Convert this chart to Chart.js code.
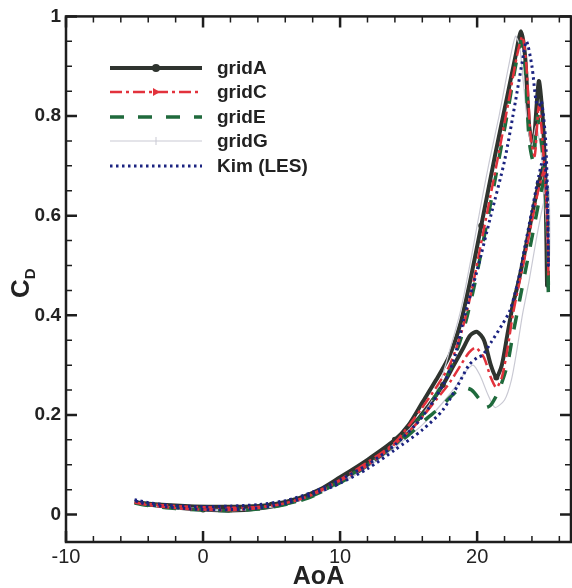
<!DOCTYPE html>
<html>
<head>
<meta charset="utf-8">
<script src="https://cdn.jsdelivr.net/npm/chart.js@4.4.0/dist/chart.umd.min.js"></script>
<style>
  html, body { margin: 0; padding: 0; background: #fff; }
  #wrap { position: relative; width: 572px; height: 588px; }
</style>
</head>
<body>
<div id="wrap"><canvas id="cd" width="572" height="588"></canvas></div>
<script>
// values: angle of attack (deg) and drag coefficient, one loop per series
const gridA_aoa = [-5, -4, -2, 0, 2, 4, 6, 8, 10, 12, 14, 15, 16, 17, 18, 18.8, 19.5, 20.3, 21.3, 22.2, 22.8, 23.2, 23.5, 23.8, 24.1, 24.5, 24.8, 25.0, 25.1, 25.05, 24.9, 24.5, 24.0, 23.5, 23.0, 22.6, 22.2, 21.8, 21.4, 21.0, 20.5, 20.0, 19.5, 19.0, 18.3, 17.5, 16.5, 15, 13, 11, 9, 7, 5, 3, 1, -1, -3, -5];
const gridA_cd = [0.025, 0.02, 0.014, 0.01, 0.008, 0.012, 0.022, 0.042, 0.075, 0.11, 0.15, 0.18, 0.225, 0.27, 0.32, 0.385, 0.47, 0.58, 0.72, 0.84, 0.92, 0.97, 0.92, 0.78, 0.74, 0.87, 0.79, 0.64, 0.46, 0.6, 0.7, 0.665, 0.6, 0.53, 0.465, 0.42, 0.36, 0.3, 0.275, 0.3, 0.35, 0.367, 0.36, 0.335, 0.3, 0.26, 0.22, 0.17, 0.125, 0.088, 0.057, 0.033, 0.02, 0.016, 0.016, 0.017, 0.02, 0.025];

const gridC_aoa = [-5, -4, -2, 0, 2, 4, 6, 8, 10, 12, 14, 16, 17, 18, 18.9, 19.6, 20.4, 21.4, 22.3, 22.9, 23.3, 23.6, 23.9, 24.2, 24.5, 24.8, 25.1, 25.2, 25.1, 24.9, 24.5, 24.0, 23.5, 23.0, 22.6, 22.2, 21.8, 21.4, 21.0, 20.5, 19.9, 19.4, 18.8, 18.0, 17.0, 15.5, 13.5, 11.5, 9, 7, 5, 3, 1, -1, -3, -5];
const gridC_cd = [0.024, 0.019, 0.013, 0.01, 0.009, 0.013, 0.023, 0.04, 0.07, 0.105, 0.145, 0.215, 0.255, 0.3, 0.37, 0.45, 0.56, 0.7, 0.83, 0.92, 0.96, 0.9, 0.76, 0.72, 0.82, 0.74, 0.6, 0.48, 0.6, 0.69, 0.655, 0.59, 0.52, 0.455, 0.4, 0.33, 0.275, 0.255, 0.275, 0.315, 0.335, 0.325, 0.3, 0.265, 0.23, 0.18, 0.13, 0.09, 0.055, 0.03, 0.018, 0.014, 0.014, 0.016, 0.019, 0.024];

const gridE_aoa = [-5, -4, -2, 0, 2, 4, 6, 8, 10, 12, 14, 16, 17, 18, 19, 19.8, 20.6, 21.5, 22.3, 22.8, 23.2, 23.5, 23.8, 24.1, 24.4, 24.8, 25.1, 25.2, 25.15, 25.0, 24.6, 24.1, 23.6, 23.1, 22.6, 22.2, 21.6, 21.0, 20.6, 20.2, 19.6, 18.9, 18.2, 17.3, 16.2, 15, 13, 11, 9, 7, 5, 3, 1, -1, -3, -5];
const gridE_cd = [0.023, 0.018, 0.012, 0.009, 0.008, 0.011, 0.02, 0.037, 0.068, 0.1, 0.14, 0.2, 0.24, 0.29, 0.37, 0.46, 0.57, 0.7, 0.82, 0.9, 0.95, 0.9, 0.75, 0.71, 0.8, 0.72, 0.58, 0.44, 0.56, 0.68, 0.64, 0.57, 0.5, 0.43, 0.36, 0.3, 0.25, 0.22, 0.215, 0.23, 0.25, 0.255, 0.24, 0.215, 0.19, 0.16, 0.12, 0.08, 0.05, 0.028, 0.016, 0.011, 0.011, 0.013, 0.017, 0.023];

const gridG_aoa = [-5, -3, -1, 1, 3, 5, 7, 9, 11, 13, 15, 16.5, 17.3, 18, 18.8, 19.6, 20.4, 20.9, 21.6, 22.3, 22.8, 23.1, 23.4, 23.7, 24.0, 24.3, 24.7, 25.0, 25.2, 25.3, 25.2, 24.8, 24.3, 23.8, 23.3, 22.9, 22.5, 22.0, 21.3, 20.8, 20.2, 19.7, 19.1, 18.5, 17.5, 16, 14, 12, 10, 8, 6, 4, 2, 0, -2, -4, -5];
const gridG_cd = [0.023, 0.015, 0.01, 0.008, 0.009, 0.015, 0.028, 0.05, 0.08, 0.12, 0.17, 0.22, 0.265, 0.33, 0.41, 0.52, 0.64, 0.71, 0.8, 0.9, 0.96, 0.94, 0.86, 0.78, 0.74, 0.78, 0.72, 0.6, 0.47, 0.55, 0.66, 0.62, 0.55, 0.47, 0.4, 0.33, 0.27, 0.23, 0.215, 0.24, 0.28, 0.3, 0.285, 0.26, 0.225, 0.18, 0.135, 0.095, 0.062, 0.038, 0.022, 0.012, 0.01, 0.012, 0.015, 0.02, 0.023];

const kim_aoa = [-5, -4, -2, 0, 2, 4, 6, 8, 10, 12, 14, 15.5, 16.5, 17.5, 18.3, 19, 20, 21, 22, 22.8, 23.3, 23.6, 24.0, 24.3, 24.5, 24.7, 25.0, 25.15, 25.2, 25.15, 24.9, 24.5, 24.0, 23.5, 23.0, 22.4, 21.8, 21.0, 20.4, 20.0, 19.4, 18.6, 17.5, 16, 14, 12, 10, 8, 6, 4, 2, 0, -2, -4, -5];
const kim_cd = [0.03, 0.024, 0.018, 0.016, 0.017, 0.02, 0.028, 0.045, 0.07, 0.1, 0.14, 0.18, 0.215, 0.26, 0.31, 0.39, 0.49, 0.6, 0.71, 0.83, 0.91, 0.95, 0.9, 0.83, 0.82, 0.83, 0.75, 0.62, 0.5, 0.6, 0.72, 0.68, 0.61, 0.54, 0.47, 0.41, 0.38, 0.345, 0.32, 0.315, 0.3, 0.26, 0.21, 0.17, 0.13, 0.092, 0.063, 0.04, 0.022, 0.013, 0.01, 0.01, 0.014, 0.02, 0.028];

const seriesNames = ['gridA', 'gridC', 'gridE', 'gridG', 'Kim (LES)'];
const xTickValues = [-10, 0, 10, 20];
const yTickValues = [0, 0.2, 0.4, 0.6, 0.8, 1];

const toPoints = (xs, ys) => xs.map((x, i) => ({ x: x, y: ys[i] }));

const FONT = "'Liberation Sans', Arial, Helvetica, sans-serif";
const INK = '#1e1e1e';

const styles = [
  { color: '#2f342f', width: 4, dash: [], marker: 'circle' },
  { color: '#e2323c', width: 2.5, dash: [12, 4, 3, 4], marker: 'arrow' },
  { color: '#1f6a3c', width: 3.5, dash: [14, 14], marker: null },
  { color: '#c9c9d3', width: 1.2, dash: [], marker: 'tick' },
  { color: '#1b2380', width: 3, dash: [2.5, 3.5], marker: null },
];

const datasets = [
  toPoints(gridA_aoa, gridA_cd),
  toPoints(gridC_aoa, gridC_cd),
  toPoints(gridE_aoa, gridE_cd),
  toPoints(gridG_aoa, gridG_cd),
  toPoints(kim_aoa, kim_cd),
].map((pts, i) => ({
  label: seriesNames[i],
  data: pts,
  showLine: true,
  borderColor: styles[i].color,
  backgroundColor: styles[i].color,
  borderWidth: styles[i].width,
  borderDash: styles[i].dash,
  tension: 0.25,
  pointRadius: i === 0 ? (ctx) => (ctx.dataIndex % 7 === 3 ? 3 : 0) : 0,
  pointBorderWidth: 0,
  order: [5, 2, 3, 4, 1][i],
}));

// frame with inward ticks, legend and the C_D title
const decorations = {
  id: 'decorations',
  afterDatasetsDraw(chart) {
    const { ctx, chartArea: a, scales } = chart;
    const xs = scales.x, ys = scales.y;
    ctx.save();
    ctx.strokeStyle = INK;
    ctx.lineWidth = 2.5;
    ctx.strokeRect(a.left, a.top, a.right - a.left, a.bottom - a.top);

    for (let v = -10; v <= 26; v += 2) {
      const px = xs.getPixelForValue(v);
      const len = v % 10 === 0 ? 11 : 6;
      ctx.lineWidth = v % 10 === 0 ? 2.5 : 1.5;
      ctx.beginPath();
      ctx.moveTo(px, a.bottom); ctx.lineTo(px, a.bottom - len);
      ctx.moveTo(px, a.top); ctx.lineTo(px, a.top + len);
      ctx.stroke();
    }
    for (let k = 0; k <= 20; k++) {
      const py = ys.getPixelForValue(k * 0.05);
      const major = k % 4 === 0;
      const len = major ? 11 : 6;
      ctx.lineWidth = major ? 2.5 : 1.5;
      ctx.beginPath();
      ctx.moveTo(a.left, py); ctx.lineTo(a.left + len, py);
      ctx.moveTo(a.right, py); ctx.lineTo(a.right - len, py);
      ctx.stroke();
    }

    // legend
    const lx0 = 110, lx1 = 202, tx = 217;
    const rows = [68, 92, 117, 141, 166];
    ctx.font = 'bold 19px ' + FONT;
    ctx.textBaseline = 'middle';
    ctx.textAlign = 'left';
    seriesNames.forEach((name, i) => {
      const s = styles[i];
      const y = rows[i];
      ctx.strokeStyle = s.color;
      ctx.lineWidth = s.width;
      ctx.setLineDash(s.dash);
      ctx.beginPath();
      ctx.moveTo(lx0, y); ctx.lineTo(lx1, y);
      ctx.stroke();
      ctx.setLineDash([]);
      const mx = (lx0 + lx1) / 2;
      ctx.fillStyle = s.color;
      if (s.marker === 'circle') {
        ctx.beginPath(); ctx.arc(mx, y, 4, 0, Math.PI * 2); ctx.fill();
      } else if (s.marker === 'arrow') {
        ctx.beginPath(); ctx.moveTo(mx - 3, y - 4); ctx.lineTo(mx + 4, y); ctx.lineTo(mx - 3, y + 4); ctx.closePath(); ctx.fill();
      } else if (s.marker === 'tick') {
        ctx.lineWidth = 1;
        ctx.beginPath(); ctx.moveTo(mx, y - 4); ctx.lineTo(mx, y + 4); ctx.stroke();
      }
      ctx.fillStyle = '#222';
      ctx.fillText(name, tx, y + 1);
    });

    // y title C with subscript D
    ctx.translate(29, 298);
    ctx.rotate(-Math.PI / 2);
    ctx.fillStyle = '#222';
    ctx.textBaseline = 'alphabetic';
    ctx.font = 'bold 26px ' + FONT;
    ctx.fillText('C', 0, 0);
    const cw = ctx.measureText('C').width;
    ctx.font = 'bold 15px ' + FONT;
    ctx.fillText('D', cw, 6);
    ctx.restore();
  }
};

new Chart(document.getElementById('cd'), {
  type: 'scatter',
  data: { datasets: datasets },
  options: {
    responsive: false,
    animation: false,
    layout: { padding: { top: 16, right: 1, left: 0, bottom: 0 } },
    plugins: { legend: { display: false }, tooltip: { enabled: false } },
    scales: {
      x: {
        type: 'linear',
        min: -10,
        max: 26.85,
        afterFit: (scale) => { scale.height = 46; },
        afterBuildTicks: (scale) => { scale.ticks = xTickValues.map(v => ({ value: v })); },
        grid: { display: false, drawTicks: false },
        border: { display: false },
        ticks: { padding: 3, color: '#222', font: { family: FONT, size: 20 }, callback: (v) => String(v) },
        title: {
          display: true,
          text: 'AoA',
          color: '#222',
          padding: { top: 0, bottom: 0 },
          font: { family: FONT, size: 25, weight: 'bold', lineHeight: 0.9 },
        },
      },
      y: {
        type: 'linear',
        min: -0.055,
        max: 1,
        afterFit: (scale) => { scale.width = 66; },
        afterBuildTicks: (scale) => { scale.ticks = yTickValues.map(v => ({ value: v })); },
        grid: { display: false, drawTicks: false },
        border: { display: false },
        ticks: { padding: 5, color: '#222', font: { family: FONT, size: 19, weight: 'bold' }, callback: (v) => String(Math.round(v * 10) / 10) },
      },
    },
  },
  plugins: [decorations],
});
</script>
</body>
</html>
